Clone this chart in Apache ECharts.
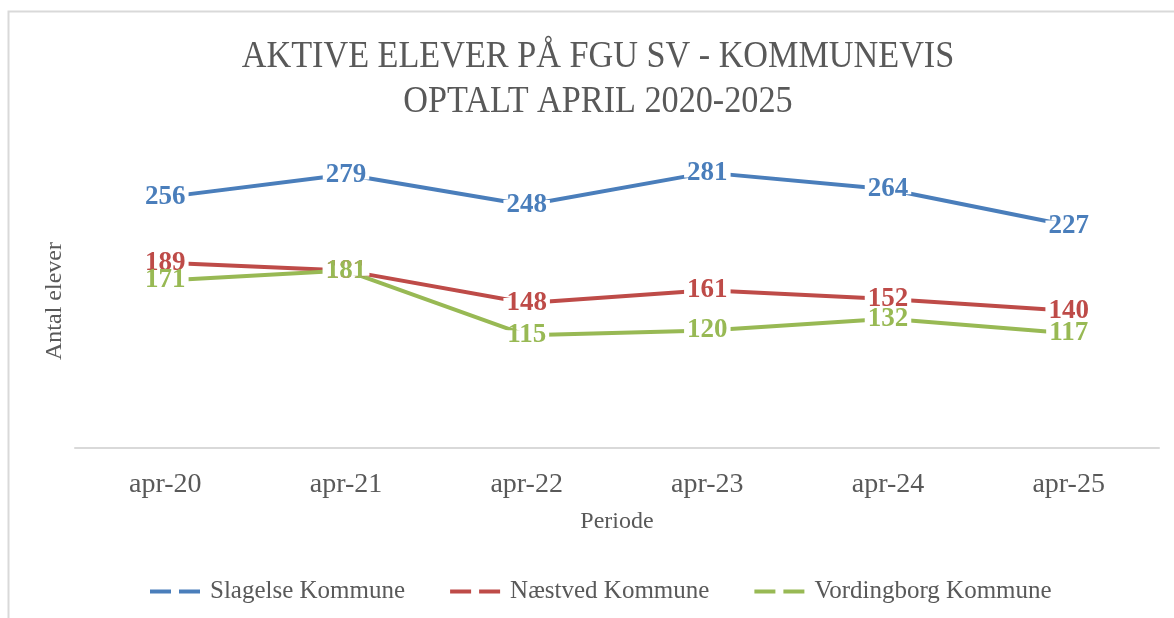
<!DOCTYPE html>
<html>
<head>
<meta charset="utf-8">
<script src="https://cdn.jsdelivr.net/npm/echarts@6/dist/echarts.min.js"></script>
<style>
  html, body { margin: 0; padding: 0; background: #fff; }
  #chart { width: 1174px; height: 618px; }
</style>
</head>
<body>
<div id="chart"></div>
<script>
const periods = ["apr-20", "apr-21", "apr-22", "apr-23", "apr-24", "apr-25"];
const slagelse = [256, 279, 248, 281, 264, 227];
const naestved = [189, 181, 148, 161, 152, 140];
const vordingborg = [171, 181, 115, 120, 132, 117];

const serif = "'Liberation Serif', 'DejaVu Serif', serif";
const grey = "#595959";

const chart = echarts.init(document.getElementById("chart"));

// white strip behind each label cuts the line, like Excel's label boxes
const mkSeries = (name, data, color) => ({
  name, type: "line", data,
  symbol: "circle", symbolSize: 1,
  itemStyle: { color },
  lineStyle: { color, width: 4 },
  label: {
    show: true, position: "inside",
    fontFamily: serif, fontWeight: "bold", fontSize: 27, lineHeight: 10,
    color, backgroundColor: "#fff", padding: [0, 3]
  },
  emphasis: { disabled: true }
});

chart.setOption({
  animation: false,
  graphic: [{
    type: "polyline", silent: true,
    shape: { points: [[8.5, 618], [8.5, 11.5], [1174, 11.5]] },
    style: { stroke: "#d9d9d9", lineWidth: 2, fill: null }
  }, {
    type: "text", silent: true,
    x: 598, y: 35, scaleX: 0.9, originX: 0,
    style: {
      text: "AKTIVE ELEVER PÅ FGU SV - KOMMUNEVIS\nOPTALT APRIL 2020-2025",
      align: "center", verticalAlign: "top",
      font: "38px " + serif, lineHeight: 45, fill: grey
    }
  }],
  legend: {
    left: 145, top: 574,
    itemWidth: 50, itemHeight: 4, itemGap: 45,
    icon: "path://M0,0h21v4h-21z M29,0h21v4h-21z",
    textStyle: { fontFamily: serif, fontSize: 25, color: grey, padding: [0, 0, 0, 5] },
    selectedMode: false
  },
  grid: { left: 75, right: 15, top: 154, bottom: 170 },
  xAxis: {
    type: "category", data: periods,
    axisLine: { lineStyle: { color: "#d9d9d9", width: 2 } },
    axisTick: { show: false },
    axisLabel: { fontFamily: serif, fontSize: 28, color: grey, margin: 23 },
    name: "Periode", nameLocation: "middle", nameGap: 62,
    nameTextStyle: { fontFamily: serif, fontSize: 24, color: grey }
  },
  yAxis: {
    type: "value", min: 0, max: 300,
    axisLine: { show: false }, axisTick: { show: false },
    axisLabel: { show: false }, splitLine: { show: false },
    name: "Antal elever", nameLocation: "middle", nameGap: 8,
    nameTextStyle: { fontFamily: serif, fontSize: 24, color: grey }
  },
  series: [
    mkSeries("Slagelse Kommune", slagelse, "#4a7ebb"),
    mkSeries("Næstved Kommune", naestved, "#be4b48"),
    mkSeries("Vordingborg Kommune", vordingborg, "#98b954")
  ]
});
</script>
</body>
</html>
